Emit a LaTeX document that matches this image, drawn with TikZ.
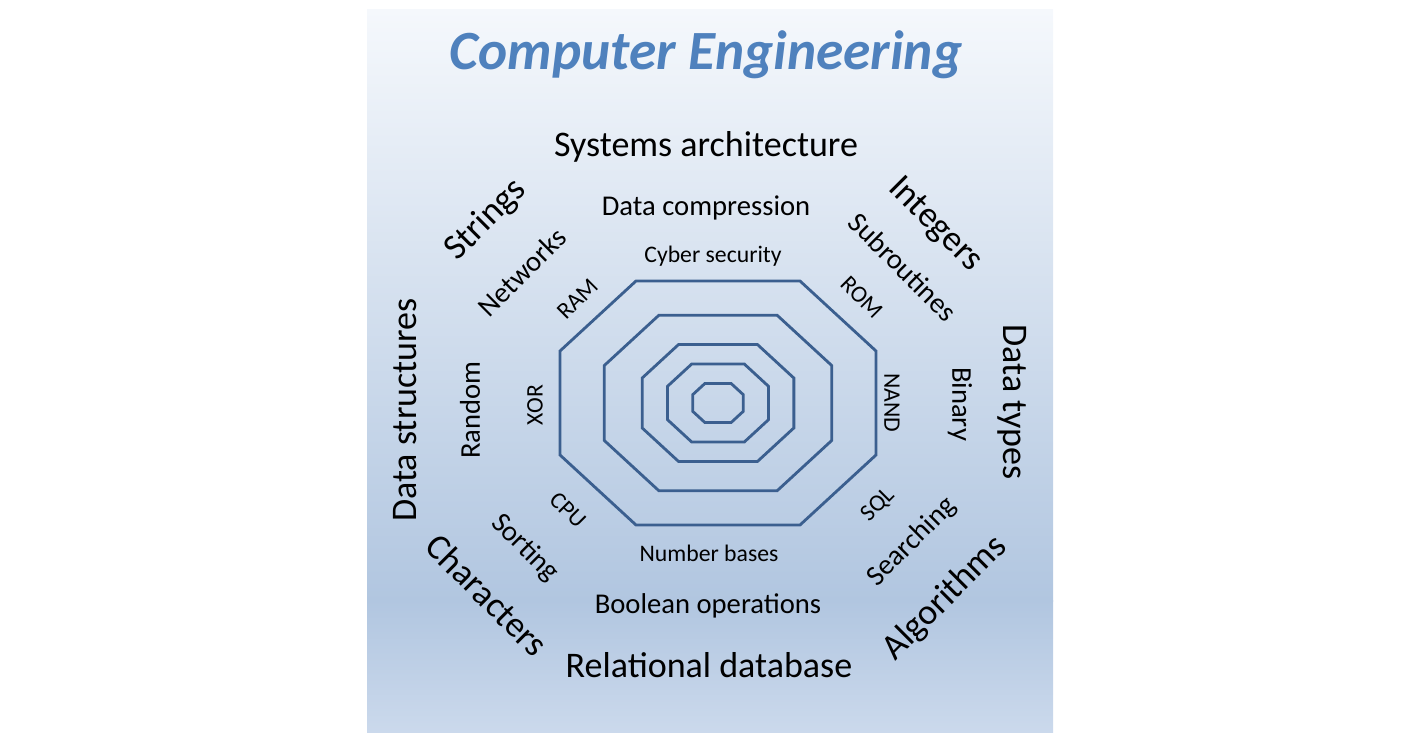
\documentclass[tikz,border=0pt]{standalone}
\usepackage{fontspec}
\setmainfont{Carlito}
\usepackage{tikz}

\definecolor{panelTop}{HTML}{F5F8FC}
\definecolor{panelMid}{HTML}{B1C6E0}
\definecolor{panelLow}{HTML}{CBD9EC}
\definecolor{octLine}{HTML}{3B5F8F}
\definecolor{titleBlue}{HTML}{4F81BD}

\tikzset{
 big/.style={font=\fontsize{20.5}{22}\selectfont, inner sep=1pt},
 mid/.style={font=\fontsize{16.3}{18}\selectfont, inner sep=1pt},
 small/.style={font=\fontsize{13.5}{15}\selectfont, inner sep=1pt},
 octa/.style={draw=octLine, line width=1.6pt, line join=miter}
}

\begin{document}
\begin{tikzpicture}[x=0.02cm,y=-0.02cm]
\useasboundingbox (0,0) rectangle (1416,733);

% panel
\shade[top color=panelTop, bottom color=panelMid] (367,10) rectangle (1053,601);
\shade[top color=panelMid, bottom color=panelLow] (367,600) rectangle (1053,733);

% octagons
\begin{scope}[shift={(718,403)}]
 \foreach \k in {1,0.72,0.48,0.32,0.16}
 \draw[octa, scale=\k] (-82,-122) -- (82,-122) -- (158,-52) -- (158,52)
   -- (82,122) -- (-82,122) -- (-158,52) -- (-158,-52) -- cycle;
\end{scope}

% title
\node[font=\fontsize{31.5}{35}\selectfont\bfseries\itshape, text=titleBlue] (title) at (706,55) {Computer Engineering};

% top and bottom
\node[big] (sysarch) at (706,147) {Systems architecture};
\node[mid] (compress) at (706,208) {Data compression};
\node[small] (cyber) at (713,256) {Cyber security};
\node[small] (bases) at (709,553) {Number bases};
\node[mid] (boolean) at (708,606) {Boolean operations};
\node[big] (reldb) at (709,665) {Relational database};

% upper left
\node[big, rotate=45] (strings) at (486,220) {Strings};
\node[mid, rotate=45] (networks) at (522,272) {Networks};
\node[small, rotate=45] (ram) at (578,299) {RAM};

% upper right
\node[big, rotate=-45] (integers) at (935,225) {Integers};
\node[mid, rotate=-45] (subs) at (903,267) {Subroutines};
\node[small, rotate=-45] (rom) at (862,297) {ROM};

% right
\node[big, rotate=-90] (dtypes) at (1012,402) {Data types};
\node[mid, rotate=-90] (binary) at (960,404) {Binary};
\node[small, rotate=-90] (nand) at (892,403) {NAND};

% left
\node[big, rotate=90] (dstruct) at (405,410) {Data structures};
\node[mid, rotate=90] (random) at (470,410) {Random};
\node[small, rotate=90] (xor) at (535,405) {XOR};

% lower left
\node[small, rotate=-45] (cpu) at (568,510) {CPU};
\node[mid, rotate=-45] (sorting) at (525,548) {Sorting};
\node[big, rotate=-45] (chars) at (487,595) {Characters};

% lower right
\node[small, rotate=45] (sql) at (878,505) {SQL};
\node[mid, rotate=45] (search) at (912,542) {Searching};
\node[big, rotate=45] (algos) at (945,598) {Algorithms};

\end{tikzpicture}
\end{document}
